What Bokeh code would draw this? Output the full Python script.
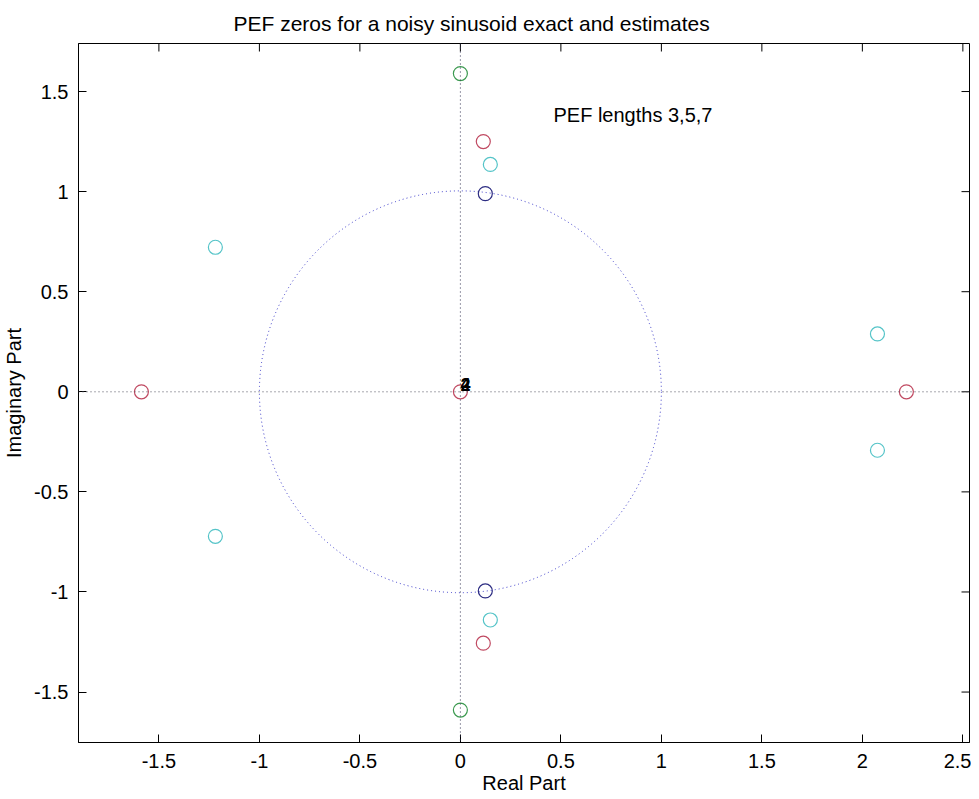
from bokeh.plotting import figure
from bokeh.models import ColumnDataSource, Span, FixedTicker
from bokeh.core.properties import value
from bokeh.embed import file_html
from bokeh.resources import INLINE

# ---- data ----
green_re = [0.0, 0.0]
green_im = [1.59, -1.59]

red_re = [0.114, 0.114, -1.587, 2.219, 0.0]
red_im = [1.25, -1.256, 0.0, 0.0, 0.0]

cyan_re = [0.149, 0.149, -1.219, -1.219, 2.075, 2.075]
cyan_im = [1.136, -1.14, 0.722, -0.722, 0.289, -0.292]

blue_re = [0.124, 0.124]
blue_im = [0.99, -0.995]

mult_labels = ["2", "4"]
mult_re = [0.0, 0.0]
mult_im = [0.035, 0.035]

x_ticks = [-1.5, -1, -0.5, 0, 0.5, 1, 1.5, 2, 2.5]
x_tick_labels = ["-1.5", "-1", "-0.5", "0", "0.5", "1", "1.5", "2", "2.5"]
y_ticks = [-1.5, -1, -0.5, 0, 0.5, 1, 1.5]
y_tick_labels = ["-1.5", "-1", "-0.5", "0", "0.5", "1", "1.5"]

FONT = "Liberation Sans"
X0, X1 = -1.90, 2.533
Y0, Y1 = -1.752, 1.74
FW, FH = 891, 699
TICK_PX = 8

p = figure(frame_width=FW, frame_height=FH,
           x_range=(X0, X1), y_range=(Y0, Y1),
           output_backend="svg", toolbar_location=None,
           min_border_left=10, min_border_right=2, min_border_top=0, min_border_bottom=0,
           background_fill_color="white", border_fill_color="white")

p.title.text = "PEF zeros for a noisy sinusoid exact and estimates"
p.title.text_font = FONT
p.title.text_font_size = "21px"
p.title.text_font_style = "normal"
p.title.text_color = "black"
p.title.align = "left"
p.title.offset = 155
p.title.standoff = 18

p.grid.visible = False
p.outline_line_color = "black"
p.outline_line_width = 1

for ax, ticks, labels in ((p.xaxis[0], x_ticks, x_tick_labels), (p.yaxis[0], y_ticks, y_tick_labels)):
    ax.ticker = FixedTicker(ticks=ticks)
    ax.major_label_overrides = {t: l for t, l in zip(ticks, labels)}
    ax.major_tick_in = TICK_PX
    ax.major_tick_out = 0
    ax.minor_tick_line_color = None
    ax.major_label_text_font = FONT
    ax.major_label_text_font_size = "20px"
    ax.major_label_text_color = "black"
    ax.axis_label_text_font = FONT
    ax.axis_label_text_font_size = "20px"
    ax.axis_label_text_font_style = "normal"
    ax.axis_label_text_color = "black"
    ax.axis_line_color = "black"
    ax.major_tick_line_color = "black"

p.xaxis.axis_label = "Real Part"
p.yaxis.axis_label = "Imaginary Part"
p.xaxis.major_label_standoff = 11
p.yaxis.major_label_standoff = 10
p.xaxis.axis_label_standoff = 1
p.yaxis.axis_label_standoff = 6

# mirrored tick marks on top and right edges of the box (derived from the tick lists)
dy = TICK_PX * (Y1 - Y0) / FH
dx = TICK_PX * (X1 - X0) / FW
p.segment(x0=x_ticks, x1=x_ticks, y0=[Y1] * len(x_ticks), y1=[Y1 - dy] * len(x_ticks),
          line_color="black", line_width=1)
p.segment(x0=[X1] * len(y_ticks), x1=[X1 - dx] * len(y_ticks), y0=y_ticks, y1=y_ticks,
          line_color="black", line_width=1)

# axes lines and unit circle
p.add_layout(Span(location=0, dimension="width", line_color="#505060",
                  line_dash="1 3", line_width=1))
p.add_layout(Span(location=0, dimension="height", line_color="#303050",
                  line_dash="1 3", line_width=1))
p.circle(x=[0], y=[0], radius=1, fill_color=None, line_color="#3838c8",
         line_dash="1 3", line_width=1)

# zeros
def zeros(xs, ys, color):
    src = ColumnDataSource(dict(x=xs, y=ys))
    p.scatter("x", "y", source=src, marker="circle", size=14,
              fill_color=None, line_color=color, line_width=1.2)

zeros(green_re, green_im, "#3c9a50")
zeros(red_re, red_im, "#c04a62")
zeros(cyan_re, cyan_im, "#55c4c8")
zeros(blue_re, blue_im, "#2c2c82")

p.text(x=mult_re, y=mult_im, text=mult_labels, text_font=value(FONT),
       text_font_size="18px", text_font_style="bold", text_color="black",
       text_align="left", text_baseline="alphabetic")

p.text(x=[0.463], y=[1.385], text=["PEF lengths 3,5,7"], text_font=value(FONT),
       text_font_size="20px", text_color="black", text_align="left",
       text_baseline="alphabetic")

open("out.html", "w").write(file_html(p, INLINE))
